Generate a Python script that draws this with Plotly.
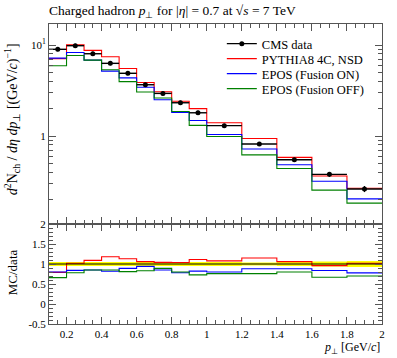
import plotly.graph_objects as go

# ---- data ----
bin_edges = [0.1, 0.2, 0.3, 0.4, 0.5, 0.6, 0.7, 0.8, 0.9, 1.0, 1.2, 1.4, 1.6, 1.8, 2.0]
cms_data = [8.97, 9.83, 8.02, 6.29, 4.89, 3.66, 2.94, 2.32, 1.80, 1.30, 0.817, 0.549, 0.379, 0.262]
cms_err = [0.45, 0.49, 0.40, 0.31, 0.24, 0.18, 0.15, 0.12, 0.09, 0.065, 0.033, 0.027, 0.023, 0.02]
pythia8 = [7.09, 10.03, 8.74, 7.42, 5.53, 3.88, 3.06, 2.41, 2.00, 1.40, 0.940, 0.582, 0.364, 0.267]
epos_on = [7.18, 8.26, 6.82, 5.16, 4.35, 3.44, 2.50, 1.81, 1.48, 1.04, 0.719, 0.483, 0.318, 0.204]
epos_off = [5.92, 7.67, 6.82, 5.35, 3.96, 3.04, 2.62, 1.86, 1.31, 0.988, 0.621, 0.439, 0.254, 0.183]

series = [
    ("PYTHIA8 4C, NSD", pythia8, "#ff0000"),
    ("EPOS (Fusion ON)", epos_on, "#0000ff"),
    ("EPOS (Fusion OFF)", epos_off, "#008000"),
]

x_ticks = [0.2, 0.4, 0.6, 0.8, 1.0, 1.2, 1.4, 1.6, 1.8, 2.0]
x_ticktext = ["0.2", "0.4", "0.6", "0.8", "1", "1.2", "1.4", "1.6", "1.8", "2"]
ratio_ticks = [-0.5, 0, 0.5, 1, 1.5, 2]
ratio_ticktext = ["-0.5", "0", "0.5", "1", "1.5", "2"]

centers = [(a + b) / 2 for a, b in zip(bin_edges[:-1], bin_edges[1:])]
halfw = [(b - a) / 2 for a, b in zip(bin_edges[:-1], bin_edges[1:])]

FONT = "Liberation Serif"
fig = go.Figure()


def step_y(vals):
    return list(vals) + [vals[-1]]


# ratio band (data uncertainty)
lo = [1 - e / d for e, d in zip(cms_err, cms_data)]
hi = [1 + e / d for e, d in zip(cms_err, cms_data)]
fig.add_trace(go.Scatter(x=bin_edges, y=step_y(lo), mode="lines", line=dict(width=0, shape="hv"),
                         xaxis="x2", yaxis="y2", showlegend=False, hoverinfo="skip"))
fig.add_trace(go.Scatter(x=bin_edges, y=step_y(hi), mode="lines", line=dict(width=0, shape="hv"),
                         fill="tonexty", fillcolor="#ffff00",
                         xaxis="x2", yaxis="y2", showlegend=False, hoverinfo="skip"))

legends = ["legend", "legend2", "legend3", "legend4"]

for i, (name, vals, col) in enumerate(series):
    fig.add_trace(go.Scatter(x=bin_edges, y=step_y(vals), mode="lines", name=name,
                             line=dict(color=col, width=1.1, shape="hv"),
                             xaxis="x", yaxis="y", legend=legends[i + 1]))
    ratio = [v / d for v, d in zip(vals, cms_data)]
    fig.add_trace(go.Scatter(x=bin_edges, y=step_y(ratio), mode="lines", showlegend=False,
                             line=dict(color=col, width=1.1, shape="hv"),
                             xaxis="x2", yaxis="y2"))

# data ratio line at 1
fig.add_trace(go.Scatter(x=[bin_edges[0], bin_edges[-1]], y=[1, 1], mode="lines",
                         line=dict(color="black", width=1.2), xaxis="x2", yaxis="y2",
                         showlegend=False, hoverinfo="skip"))

# main data (on top)
fig.add_trace(go.Scatter(
    x=centers, y=cms_data, mode="markers", name="CMS data", showlegend=False,
    marker=dict(color="black", size=5),
    error_x=dict(type="data", array=halfw, color="black", thickness=1.4, width=0),
    error_y=dict(type="data", array=cms_err, color="black", thickness=1.2, width=0),
    xaxis="x", yaxis="y",
))
# legend entry for data: line with dot
fig.add_trace(go.Scatter(x=[None], y=[None], mode="lines+markers", name="CMS data",
                         line=dict(color="black", width=1.4), marker=dict(color="black", size=5),
                         xaxis="x", yaxis="y", legend="legend"))

axis_common = dict(showline=True, mirror="allticks", linecolor="#555555", linewidth=1,
                   ticks="inside", tickcolor="#555555", showgrid=False, zeroline=False,
                   tickfont=dict(family=FONT, size=11))

minor_log = [v * m for v in (0.1, 1, 10) for m in range(2, 10)]

leg_x = 0.519
row_y = [(324 - py) / 300 for py in (44, 59, 74, 89)]
leg_common = dict(x=leg_x, xanchor="left", yanchor="middle", bgcolor="rgba(0,0,0,0)",
                  font=dict(family=FONT, size=12.5), itemwidth=30)

fig.update_layout(
    width=397, height=358,
    margin=dict(l=49, r=13, t=24, b=34),
    paper_bgcolor="white", plot_bgcolor="white",
    font=dict(family=FONT, size=11, color="black"),
    title=dict(text="Charged hadron <i>p</i><sub>⊥</sub> for |<i>η</i>| = 0.7 at √<i>s</i> = 7 TeV",
               x=49 / 397, xanchor="left", y=1 - 10 / 358, yanchor="middle",
               font=dict(family=FONT, size=13.5)),
    xaxis=dict(domain=[0, 1], range=[0.1, 2.0], anchor="y", showticklabels=False,
               tickvals=x_ticks, ticklen=7,
               minor=dict(ticks="inside", ticklen=4, dtick=0.05, tick0=0.1, tickcolor="#555555"),
               **axis_common),
    yaxis=dict(domain=[1 / 3, 1], type="log", range=[-0.967, 1.231], anchor="x",
               tickvals=[1, 10], ticktext=["1", "10<sup>1</sup>"], ticklen=7,
               minor=dict(ticks="inside", ticklen=4, tickvals=minor_log, tickcolor="#555555"),
               **axis_common),
    xaxis2=dict(domain=[0, 1], range=[0.1, 2.0], anchor="y2",
                tickvals=x_ticks, ticktext=x_ticktext, ticklen=7,
                minor=dict(ticks="inside", ticklen=4, dtick=0.05, tick0=0.1, tickcolor="#555555"),
                **axis_common),
    yaxis2=dict(domain=[0, 1 / 3], range=[-0.5, 2.0], anchor="x2",
                tickvals=ratio_ticks, ticktext=ratio_ticktext, ticklen=7,
                minor=dict(ticks="inside", ticklen=4, dtick=0.1, tick0=0, tickcolor="#555555"),
                **axis_common),
    legend=dict(y=row_y[0], **leg_common),
    legend2=dict(y=row_y[1], **leg_common),
    legend3=dict(y=row_y[2], **leg_common),
    legend4=dict(y=row_y[3], **leg_common),
    annotations=[
        dict(text="<i>d</i><sup>2</sup>N<sub>ch</sub> / <i>dη dp</i><sub>⊥</sub> [(GeV/<i>c</i>)<sup>−1</sup>]",
             xref="paper", yref="paper", x=-37 / 335, y=(324 - 119) / 300,
             textangle=-90, showarrow=False, font=dict(family=FONT, size=14),
             xanchor="center", yanchor="middle"),
        dict(text="MC/data", xref="paper", yref="paper", x=-37 / 335, y=(324 - 272) / 300,
             textangle=-90, showarrow=False, font=dict(family=FONT, size=13),
             xanchor="center", yanchor="middle"),
        dict(text="<i>p</i><sub>⊥</sub> [GeV/<i>c</i>]", xref="paper", yref="paper",
             x=1, y=(324 - 348) / 300, xanchor="right", yanchor="middle",
             showarrow=False, font=dict(family=FONT, size=12)),
    ],
)

fig.write_html("out.html", config={"displayModeBar": False},
               post_script="document.body.style.margin='0';")
